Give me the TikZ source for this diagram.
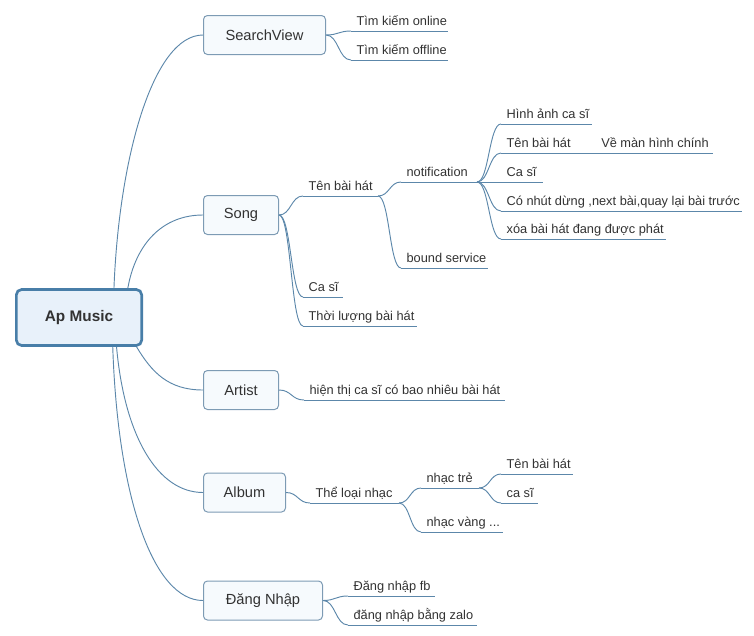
\documentclass[tikz,border=0pt]{standalone}
\usepackage{fontspec}
\setmainfont{Liberation Sans}
\usetikzlibrary{calc}
\definecolor{linec}{RGB}{92,135,170}
\definecolor{rootd}{RGB}{72,126,168}
\definecolor{rootf}{RGB}{232,241,250}
\definecolor{boxd}{RGB}{125,155,180}
\definecolor{boxf}{RGB}{246,250,253}
\definecolor{txt}{RGB}{50,50,50}
\begin{document}
\begin{tikzpicture}[x=0.75pt,y=-0.75pt,
  rootbox/.style={draw=rootd, fill=rootf, line width=2pt, rounded corners=4pt,
    minimum width=94pt, minimum height=42pt,
    font=\fontsize{11.5}{14}\selectfont\bfseries, text=txt},
  topic/.style={draw=boxd, fill=boxf, line width=0.75pt, rounded corners=3pt,
    minimum height=29.25pt, anchor=west, font=\fontsize{11}{13}\selectfont, text=txt},
  leaf/.style={anchor=south west, inner xsep=4pt, inner ysep=4.2pt, text depth=0pt,
    font=\fontsize{9.6}{11}\selectfont, text=txt},
  conn/.style={draw=linec, line width=0.7pt},
  sbranch/.style={to path={let \p1=(\tikztostart), \p2=(\tikztotarget) in
    .. controls ({0.5*(\x1+\x2)},\y1) and ({0.5*(\x1+\x2)},\y2) .. (\tikztotarget)}}
]
\useasboundingbox (0,0) rectangle (754,636);

% main topics
\node[rootbox] (root) at (79,317.5) {Ap Music};
\node[topic, minimum width=91.5pt] (sv) at (203,35) {SearchView};
\node[topic, minimum width=56.25pt] (song) at (203,215) {Song};
\node[topic, minimum width=56.25pt] (artist) at (203,390) {Artist};
\node[topic, minimum width=61.5pt] (album) at (203,492.5) {Album};
\node[topic, minimum width=89.25pt] (dn) at (203,600.5) {Đăng Nhập};

% root connectors
\draw[conn] (root.40) .. controls +(5,-130) and +(-50,0) .. (sv.west);
\draw[conn] (root.31) .. controls +(8,-45) and +(-40,0) .. (song.west);
\draw[conn] (root.-27) .. controls +(15,25) and +(-35,0) .. (artist.west);
\draw[conn] (root.-38) .. controls +(8,90) and +(-45,0) .. (album.west);
\draw[conn] (root.-41) .. controls +(5,150) and +(-50,0) .. (dn.west);

% leaves
\node[leaf] (s1) at (351,31) {Tìm kiếm online};
\node[leaf] (s2) at (351,60) {Tìm kiếm offline};
\node[leaf] (t1) at (303,196) {Tên bài hát};
\node[leaf] (n1) at (401,182) {notification};
\node[leaf] (h1) at (501,124) {Hình ảnh ca sĩ};
\node[leaf] (h2) at (501,153) {\makebox[71pt][l]{Tên bài hát}Về màn hình chính};
\node[leaf] (h3) at (501,182) {Ca sĩ};
\node[leaf] (h4) at (501,211) {Có nhút dừng ,next bài,quay lại bài trước};
\node[leaf] (h5) at (501,239) {xóa bài hát đang được phát};
\node[leaf] (b1) at (401,268) {bound service};
\node[leaf] (c1) at (303,297) {Ca sĩ};
\node[leaf] (c2) at (303,326) {Thời lượng bài hát};
\node[leaf] (a1) at (304,400) {hiện thị ca sĩ có bao nhiêu bài hát};
\node[leaf] (al1) at (310,503) {Thể loại nhạc};
\node[leaf] (al2) at (421,488) {nhạc trẻ};
\node[leaf] (al3) at (421,532) {nhạc vàng ...};
\node[leaf] (al4) at (501,474) {Tên bài hát};
\node[leaf] (al5) at (501,503) {ca sĩ};
\node[leaf] (d1) at (348,596) {Đăng nhập fb};
\node[leaf] (d2) at (348,625) {đăng nhập bằng zalo};

% underlines
\draw[conn] (s1.south west) -- ++(97,0);
\draw[conn] (s2.south west) -- ++(97,0);
\draw[conn] (t1.south west) -- ++(75,0) coordinate (t1e);
\draw[conn] (n1.south west) -- ++(76,0) coordinate (n1e);
\draw[conn] (h1.south west) -- ++(91,0);
\draw[conn] (h2.south west) -- ++(212,0);
\draw[conn] (h3.south west) -- ++(42,0);
\draw[conn] (h4.south west) -- ++(241,0);
\draw[conn] (h5.south west) -- ++(165,0);
\draw[conn] (b1.south west) -- ++(87,0);
\draw[conn] (c1.south west) -- ++(40,0);
\draw[conn] (c2.south west) -- ++(114,0);
\draw[conn] (a1.south west) -- ++(201,0);
\draw[conn] (al1.south west) -- ++(89,0) coordinate (al1e);
\draw[conn] (al2.south west) -- ++(58,0) coordinate (al2e);
\draw[conn] (al3.south west) -- ++(82,0);
\draw[conn] (al4.south west) -- ++(72,0);
\draw[conn] (al5.south west) -- ++(37,0);
\draw[conn] (d1.south west) -- ++(87,0);
\draw[conn] (d2.south west) -- ++(129,0);

% branch connectors
\draw[conn] (sv.east) to[sbranch] (s1.south west);
\draw[conn] (sv.east) to[sbranch] (s2.south west);
\draw[conn] (song.east) to[sbranch] (t1.south west);
\draw[conn] (song.east) to[sbranch] (c1.south west);
\draw[conn] (song.east) to[sbranch] (c2.south west);
\draw[conn] (t1e) to[sbranch] (n1.south west);
\draw[conn] (t1e) to[sbranch] (b1.south west);
\draw[conn] (n1e) to[sbranch] (h1.south west);
\draw[conn] (n1e) to[sbranch] (h2.south west);
\draw[conn] (n1e) to[sbranch] (h3.south west);
\draw[conn] (n1e) to[sbranch] (h4.south west);
\draw[conn] (n1e) to[sbranch] (h5.south west);
\draw[conn] (artist.east) to[sbranch] (a1.south west);
\draw[conn] (album.east) to[sbranch] (al1.south west);
\draw[conn] (al1e) to[sbranch] (al2.south west);
\draw[conn] (al1e) to[sbranch] (al3.south west);
\draw[conn] (al2e) to[sbranch] (al4.south west);
\draw[conn] (al2e) to[sbranch] (al5.south west);
\draw[conn] (dn.east) to[sbranch] (d1.south west);
\draw[conn] (dn.east) to[sbranch] (d2.south west);
\end{tikzpicture}
\end{document}
